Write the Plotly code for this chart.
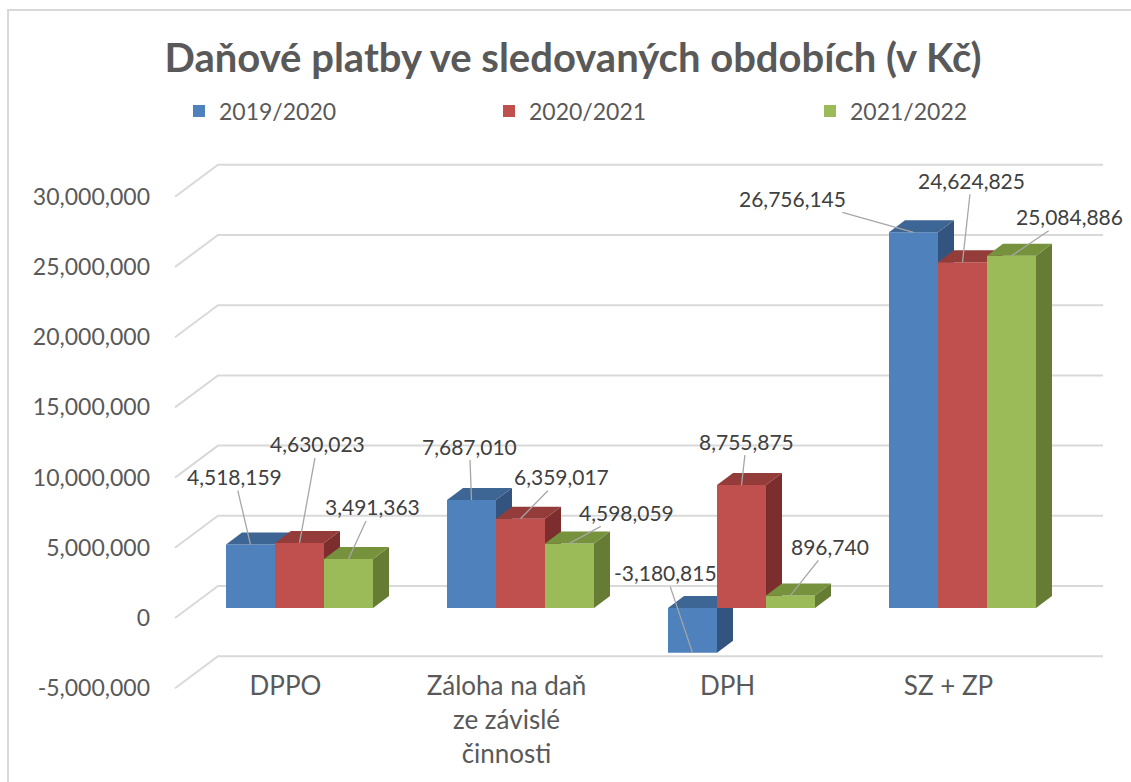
import plotly.graph_objects as go

# ---------------- data ----------------
categories = ["DPPO", "Záloha na daň<br>ze závislé<br>činnosti", "DPH", "SZ + ZP"]
series_names = ["2019/2020", "2020/2021", "2021/2022"]
values_2019_2020 = [4518159, 7687010, -3180815, 26756145]
values_2020_2021 = [4630023, 6359017, 8755875, 24624825]
values_2021_2022 = [3491363, 4598059, 896740, 25084886]
y_tickvals = [-5000000, 0, 5000000, 10000000, 15000000, 20000000, 25000000, 30000000]
y_ticktext = ["-5,000,000", "0", "5,000,000", "10,000,000", "15,000,000",
              "20,000,000", "25,000,000", "30,000,000"]

# ---------------- styles / layout geometry ----------------
front_colors = ["#4F81BD", "#C0504D", "#9BBB59"]
top_colors = ["#3D6694", "#943C3A", "#77923C"]
side_colors = ["#33547E", "#7B2E2D", "#667C35"]
TEXT = "#595959"
LABEL = "#404040"
GRID = "#D9D9D9"
FONT = "Lato"

# data-label offsets (pixels, label centre relative to bar top)
label_dx = [[-16, -2, -27, -121], [18, 41, 5, 9], [24, 57, 39, 58]]
label_dy = [[-68, -54, -80, -34], [-99, -42, -44, -82], [-52, -31, -49, -39]]
legend_left_px = [179, 489, 810]

W, H = 1131, 782
L, R, T, B = 160, 1110, 160, 700
PXU = 221.0            # pixels per category
PXM = 14.04 / 1e6      # pixels per Kč
X0_BAR, Y0_BAR = 299.5, 608.0       # bar front plane origin
X0_FRONT, Y0_FRONT = 285.5, 618.0   # front floor plane (axis labels)
BACK_DX, BACK_DY = 43.0, 32.0       # front -> back wall shift (px)
WALL_FRONT_X, WALL_BACK_X, WALL_RIGHT_X = 175.0, 218.0, 1103.0
BAR_W = 49.0 / PXU
DEPTH_X = 16.0 / PXU
DEPTH_Y = 12.0 / PXM


def uf(px):
    return (px - X0_FRONT) / PXU


def vf(py):
    return (Y0_FRONT - py) / PXM


def ub(px):
    return (px - X0_BAR) / PXU


def vb(py):
    return (Y0_BAR - py) / PXM


def paper_x(px):
    return (px - L) / (R - L)


def paper_y(py):
    return (B - py) / (B - T)


fig = go.Figure()

# ---------- gridlines (back wall + left wall diagonals), base subplot ----------
gx, gy = [], []
for v in y_tickvals:
    gx += [uf(WALL_FRONT_X), uf(WALL_BACK_X), uf(WALL_RIGHT_X), None]
    gy += [v, v + BACK_DY / PXM, v + BACK_DY / PXM, None]
fig.add_trace(go.Scatter(x=gx, y=gy, mode="lines", line=dict(color=GRID, width=2),
                         hoverinfo="skip", showlegend=False, xaxis="x", yaxis="y"))

# ---------- 3D bars, one overlaying subplot per series ----------
all_values = [values_2019_2020, values_2020_2021, values_2021_2022]
legend_ids = ["legend", "legend2", "legend3"]
annotations = []
for k, (name, vals) in enumerate(zip(series_names, all_values)):
    xa, ya = "x%d" % (k + 2), "y%d" % (k + 2)
    offset = -1.5 * BAR_W + k * BAR_W
    xs = list(range(len(categories)))
    fig.add_trace(go.Bar(x=xs, y=vals, width=BAR_W, offset=offset, name=name,
                         marker=dict(color=front_colors[k], line=dict(width=0)),
                         xaxis=xa, yaxis=ya, showlegend=True, legend=legend_ids[k]))
    tx, ty, sx, sy = [], [], [], []
    for i, v in enumerate(vals):
        x0 = i + offset
        x1 = x0 + BAR_W
        lo, hi = min(0, v), max(0, v)
        tx += [x0, x1, x1 + DEPTH_X, x0 + DEPTH_X, x0, None]
        ty += [hi, hi, hi + DEPTH_Y, hi + DEPTH_Y, hi, None]
        sx += [x1, x1 + DEPTH_X, x1 + DEPTH_X, x1, x1, None]
        sy += [lo, lo + DEPTH_Y, hi + DEPTH_Y, hi, lo, None]
        annotations.append(dict(
            x=x0 + BAR_W / 2, y=v, xref=xa, yref=ya,
            text=f"{v:,}", showarrow=True, arrowhead=0, arrowwidth=1.3,
            arrowcolor="#A6A6A6", standoff=0, ax=label_dx[k][i], ay=label_dy[k][i],
            font=dict(family=FONT, size=21, color=LABEL)))
    fig.add_trace(go.Scatter(x=sx, y=sy, fill="toself", fillcolor=side_colors[k],
                             mode="lines", line=dict(width=0), hoverinfo="skip",
                             showlegend=False, xaxis=xa, yaxis=ya))
    fig.add_trace(go.Scatter(x=tx, y=ty, fill="toself", fillcolor=top_colors[k],
                             mode="lines", line=dict(width=0), hoverinfo="skip",
                             showlegend=False, xaxis=xa, yaxis=ya))

# ---------- layout ----------
bar_xr = [ub(L), ub(R)]
bar_yr = [vb(B), vb(T)]
layout = dict(
    width=W, height=H,
    margin=dict(l=L, r=W - R, t=T, b=H - B, autoexpand=False),
    paper_bgcolor="white", plot_bgcolor="white",
    font=dict(family=FONT, color=TEXT),
    title=dict(text="Daňové platby ve sledovaných obdobích (v Kč)",
               x=573 / W, xanchor="center", y=1 - 58 / H, yanchor="middle",
               font=dict(family=FONT, size=40, color=TEXT, weight="bold")),
    showlegend=True,
    xaxis=dict(range=[uf(L), uf(R)], tickvals=list(range(len(categories))),
               ticktext=categories, showgrid=False, zeroline=False, showline=False,
               ticks="", anchor="free", position=paper_y(668),
               tickfont=dict(family=FONT, size=26, color=TEXT)),
    yaxis=dict(range=[vf(B), vf(T)], tickvals=y_tickvals, ticktext=y_ticktext,
               showgrid=False, zeroline=False, showline=False, ticks="",
               ticklabelstandoff=9, tickfont=dict(family=FONT, size=23, color=TEXT)),
    annotations=annotations,
    shapes=[dict(type="rect", xref="paper", yref="paper",
                 x0=paper_x(8), x1=paper_x(1140), y0=paper_y(795), y1=paper_y(10),
                 line=dict(color=GRID, width=2), fillcolor="rgba(0,0,0,0)", layer="below")],
    hovermode=False,
)
for k, lid in enumerate(legend_ids):
    layout[lid] = dict(orientation="h", x=paper_x(legend_left_px[k]), xanchor="left",
                       y=paper_y(111), yanchor="middle",
                       font=dict(family=FONT, size=23, color=TEXT),
                       bgcolor="rgba(0,0,0,0)")
for k in range(3):
    layout["xaxis%d" % (k + 2)] = dict(range=bar_xr, overlaying="x", visible=False,
                                      anchor="y%d" % (k + 2))
    layout["yaxis%d" % (k + 2)] = dict(range=bar_yr, overlaying="y", visible=False,
                                      anchor="x%d" % (k + 2))
fig.update_layout(**layout)

fig.write_html("out.html", config={"displayModeBar": False},
               post_script="document.body.style.margin='0px';")
